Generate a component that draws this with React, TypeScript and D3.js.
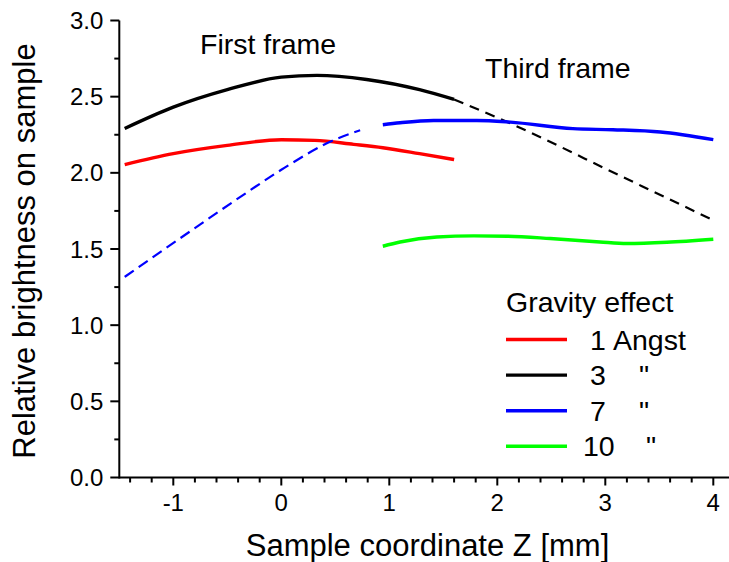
import React from "react";
import * as d3 from "d3";

// Relative brightness vs. sample coordinate for several gravity-effect values
const redZ = [-1.45, -1.0, -0.5, 0.0, 0.31, 0.67, 0.94, 1.28, 1.6];
const redB = [2.054, 2.126, 2.18, 2.217, 2.213, 2.187, 2.165, 2.126, 2.087];

const blackZ = [-1.45, -1.0, -0.5, 0.0, 0.33, 0.79, 1.28, 1.6];
const blackB = [2.291, 2.431, 2.546, 2.628, 2.64, 2.613, 2.546, 2.482];

const blackDashZ = [1.6, 2.12, 3.14, 4.0];
const blackDashB = [2.482, 2.325, 1.98, 1.689];

const blueDashZ = [-1.45, -0.75, -0.3, 0.0, 0.48, 0.73];
const blueDashB = [1.317, 1.662, 1.88, 2.02, 2.213, 2.279];

const blueZ = [0.94, 1.1, 1.41, 1.81, 2.12, 2.7, 3.07, 3.51, 4.0];
const blueB = [2.316, 2.329, 2.344, 2.344, 2.333, 2.29, 2.283, 2.268, 2.218];

const greenZ = [0.94, 1.1, 1.44, 1.78, 2.09, 2.49, 2.95, 3.2, 3.57, 4.0];
const greenB = [1.518, 1.546, 1.579, 1.586, 1.584, 1.569, 1.546, 1.536, 1.544, 1.564];

const xTicks = [-1, 0, 1, 2, 3, 4];
const yTicks = [0, 0.5, 1.0, 1.5, 2.0, 2.5, 3.0];

const legendTitle = "Gravity effect";
const legendNums = ["1", "3", "7", "10"];
const legendUnits = ["Angst", "\"", "\"", "\""];
const legendColors = ["#ff0000", "#000000", "#0000ff", "#00ff00"];

const W = 729;
const H = 562;
const FONT = "Arial, 'Liberation Sans', Helvetica, sans-serif";

const zip = (xs: number[], ys: number[]) => xs.map((x, i) => [x, ys[i]] as [number, number]);

export default function App() {
  const x = d3.scaleLinear().domain([-1, 4]).range([173.3, 713.3]);
  const y = d3.scaleLinear().domain([0, 3]).range([477.5, 20.5]);
  const x0 = x(-1.5);
  const x1 = W + 2;

  const line = d3
    .line<[number, number]>()
    .x((d) => x(d[0]))
    .y((d) => y(d[1]))
    .curve(d3.curveMonotoneX);

  const minorX = d3.range(-1.4, 4.2, 0.2).filter((v) => Math.abs(v - Math.round(v)) > 1e-6);
  const minorY = d3.range(0.25, 3, 0.5);

  const series = [
    { d: zip(redZ, redB), c: "#ff0000", w: 3.4, dash: undefined },
    { d: zip(blackZ, blackB), c: "#000000", w: 3.4, dash: undefined },
    { d: zip(blackDashZ, blackDashB), c: "#000000", w: 2.2, dash: "10,7" },
    { d: zip(blueDashZ, blueDashB), c: "#0000ff", w: 2.2, dash: "11,6" },
    { d: zip(blueZ, blueB), c: "#0000ff", w: 3.4, dash: undefined },
    { d: zip(greenZ, greenB), c: "#00ff00", w: 3.4, dash: undefined },
  ];

  const legX = 506;
  const legY0 = 339.5;
  const legDy = 35.6;
  const legFont = 28.5;

  return (
    <svg
      width={W}
      height={H}
      style={{ position: "absolute", left: 0, top: 0, background: "#fff" }}
      fontFamily={FONT}
    >
      <rect width={W} height={H} fill="#fff" />

      {series.map((s, i) => (
        <path
          key={i}
          d={line(s.d) || ""}
          fill="none"
          stroke={s.c}
          strokeWidth={s.w}
          strokeDasharray={s.dash}
          strokeLinejoin="round"
        />
      ))}

      {/* axes */}
      <line x1={x0} x2={x1} y1={y(0)} y2={y(0)} stroke="#000" strokeWidth={2} />
      <line x1={x0} x2={x0} y1={y(0) + 1} y2={y(3)} stroke="#000" strokeWidth={2} />

      {xTicks.map((t) => (
        <g key={"xt" + t}>
          <line x1={x(t)} x2={x(t)} y1={y(0)} y2={y(0) + 8} stroke="#000" strokeWidth={2} />
          <text x={x(t)} y={y(0) + 33} textAnchor="middle" fontSize={24}>
            {t}
          </text>
        </g>
      ))}
      {minorX.map((t, i) => (
        <line key={"xm" + i} x1={x(t)} x2={x(t)} y1={y(0)} y2={y(0) + 5} stroke="#000" strokeWidth={2} />
      ))}

      {yTicks.map((t) => (
        <g key={"yt" + t}>
          <line x1={x0 - 9} x2={x0} y1={y(t)} y2={y(t)} stroke="#000" strokeWidth={2} />
          <text x={x0 - 16} y={y(t) + 8.5} textAnchor="end" fontSize={24}>
            {t.toFixed(1)}
          </text>
        </g>
      ))}
      {minorY.map((t, i) => (
        <line key={"ym" + i} x1={x0 - 5} x2={x0} y1={y(t)} y2={y(t)} stroke="#000" strokeWidth={2} />
      ))}

      {/* axis titles */}
      <text x={427.5} y={556} textAnchor="middle" fontSize={31}>
        Sample coordinate Z [mm]
      </text>
      <text transform="translate(35, 251) rotate(-90)" textAnchor="middle" fontSize={31}>
        Relative brightness on sample
      </text>

      {/* annotations */}
      <text x={200} y={54} fontSize={28.5}>
        First frame
      </text>
      <text x={485} y={78} fontSize={28.5}>
        Third frame
      </text>

      {/* legend */}
      <text x={legX} y={312} fontSize={legFont}>
        {legendTitle}
      </text>
      {legendNums.map((n, i) => {
        const ly = legY0 + i * legDy;
        const numX = n.length > 1 ? 583 : 590;
        const unitX = i === 0 ? 613 : n.length > 1 ? 646 : 639;
        return (
          <g key={"lg" + i}>
            <line x1={legX} x2={legX + 61} y1={ly} y2={ly} stroke={legendColors[i]} strokeWidth={3.4} />
            <text x={numX} y={ly + 10} fontSize={legFont}>
              {n}
            </text>
            <text x={unitX} y={ly + 10} fontSize={legFont}>
              {legendUnits[i]}
            </text>
          </g>
        );
      })}
    </svg>
  );
}
